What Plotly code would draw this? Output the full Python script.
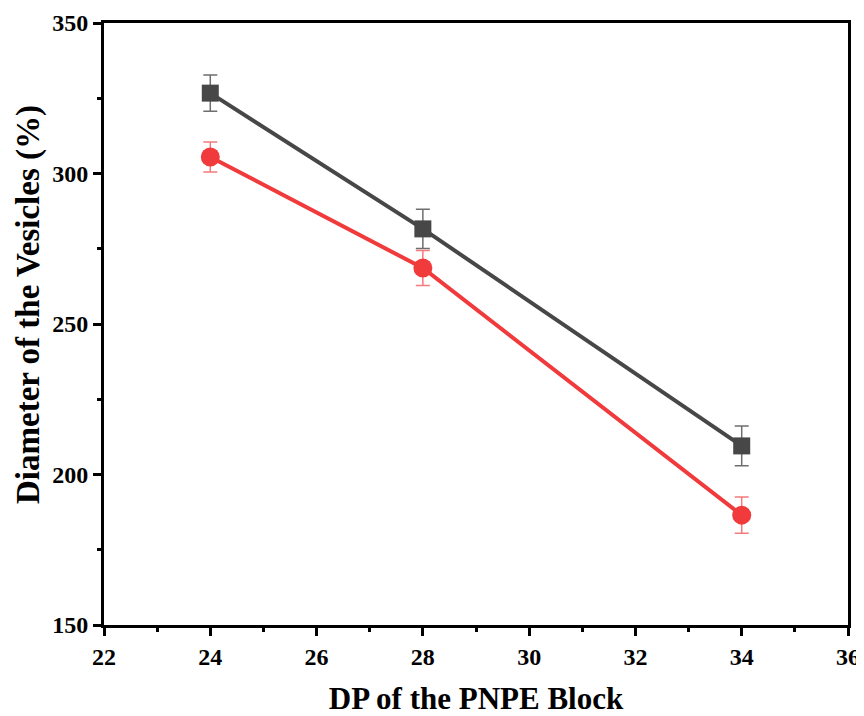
import plotly.graph_objects as go

dp = [24, 28, 34]
series_a = [326.7, 281.6, 209.5]
err_a = [6.0, 6.5, 6.6]
series_b = [305.5, 268.6, 186.5]
err_b = [5.0, 5.8, 6.0]

x_ticks = [22, 24, 26, 28, 30, 32, 34, 36]
y_ticks = [150, 200, 250, 300, 350]

x_title = "DP of the PNPE Block"
y_title = "Diameter of the Vesicles (%)"

font_family = "Liberation Serif"

fig = go.Figure()
fig.add_trace(go.Scatter(
    x=dp, y=series_a, mode="lines+markers",
    line=dict(color="#474747", width=4),
    marker=dict(symbol="square", size=17, color="#474747"),
    error_y=dict(type="data", array=err_a, visible=True, color="#6e6e6e", thickness=1.5, width=7),
    showlegend=False,
))
fig.add_trace(go.Scatter(
    x=dp, y=series_b, mode="lines+markers",
    line=dict(color="#f03a3c", width=4),
    marker=dict(symbol="circle", size=19, color="#f03a3c"),
    error_y=dict(type="data", array=err_b, visible=True, color="#f57a7b", thickness=1.5, width=7),
    showlegend=False,
))

axis_common = dict(
    showgrid=False, zeroline=False, automargin=False,
    showline=True, linecolor="black", linewidth=3, mirror=True,
    ticks="outside", ticklen=8, tickwidth=3, tickcolor="black",
    tickfont=dict(family=font_family, size=24, color="black", weight="bold"),
)

fig.update_xaxes(
    range=[22, 36], tickvals=x_ticks,
    minor=dict(dtick=1, ticks="outside", ticklen=4, tickwidth=3, tickcolor="black"),
    title=dict(text=x_title, standoff=28,
               font=dict(family=font_family, size=31, color="black", weight="bold")),
    **axis_common,
)
fig.update_yaxes(
    range=[150, 350], tickvals=y_ticks,
    minor=dict(dtick=25, ticks="outside", ticklen=4, tickwidth=3, tickcolor="black"),
    **axis_common,
)

fig.add_annotation(
    text=y_title, textangle=-90, showarrow=False,
    xref="paper", yref="paper", x=0, y=0.5316,
    xanchor="center", yanchor="middle", xshift=-75,
    borderpad=0,
    font=dict(family=font_family, size=33, color="black", weight="bold"),
)

fig.update_layout(
    width=856, height=708,
    margin=dict(l=96, r=16, t=15, b=91),
    plot_bgcolor="white", paper_bgcolor="white",
)

fig.write_html("out.html")
